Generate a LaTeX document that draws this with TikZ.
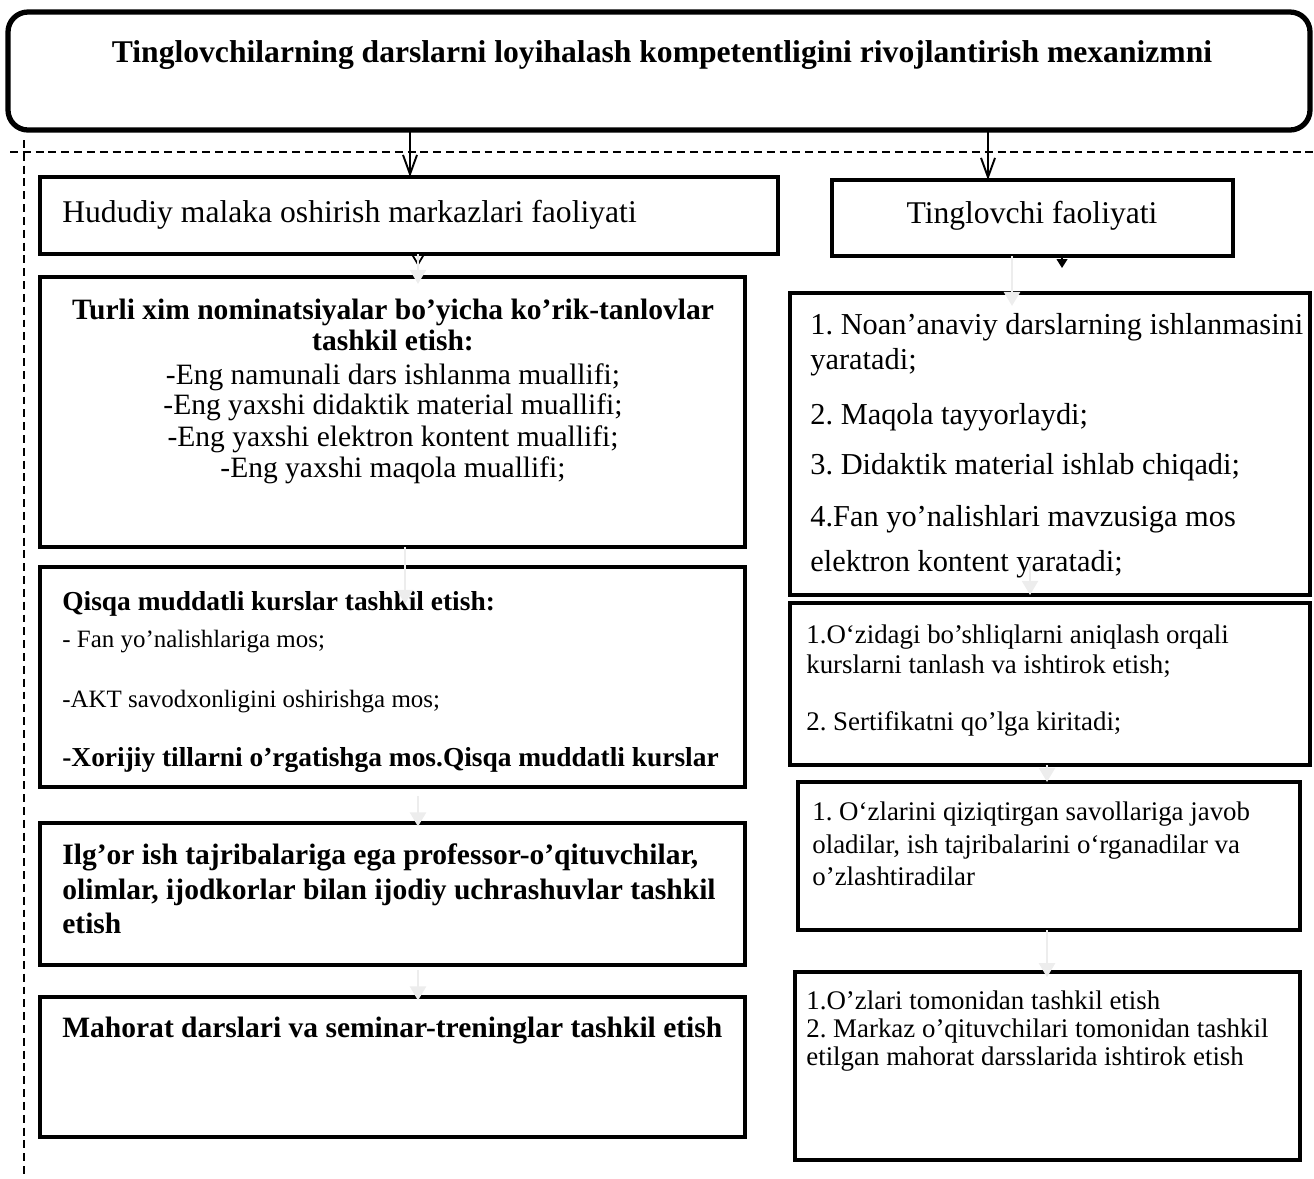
\documentclass[tikz,border=0pt]{standalone}
\usepackage{fontspec}
\setmainfont{Liberation Serif}
\usetikzlibrary{fit}
\usetikzlibrary{arrows.meta}
\frenchspacing

\begin{document}
\begin{tikzpicture}[x=0.02cm,y=-0.02cm,
    box/.style={draw,line width=2.8pt,inner sep=0pt,outer sep=0pt},
    txt/.style={inner sep=0pt,anchor=base west},
    conn/.style={draw=black!7,line width=1.6pt,-{Triangle[length=8pt,width=9pt]}},
    main/.style={line width=1.1pt,-{Straight Barb[length=11pt,width=8pt]}}]
    \useasboundingbox (0,0) rectangle (1314,1178);

    % dashed frame
    \coordinate (dl) at (10,152);
    \coordinate (dr) at (1314,152);
    \coordinate (dt) at (24,140);
    \coordinate (db) at (24,1178);
    \draw[line width=0.9pt,dash pattern=on 4.5pt off 2.8pt] (dl) -- (dr);
    \draw[line width=0.9pt,dash pattern=on 4.5pt off 2.8pt] (dt) -- (db);

    % title
    \node[box,rounded corners=0.4cm,line width=3pt,fit={(8,12) (1310,130)}] (mech) {};
    \node[inner sep=0pt,anchor=base,font=\bfseries\fontsize{18}{21}\selectfont] (mechtxt) at (662,62)
        {Tinglovchilarning darslarni loyihalash kompetentligini rivojlantirish mexanizmni};

    % left column
    \node[box,fit={(40,177) (778,254)}] (hudud) {};
    \node[txt,font=\fontsize{18}{21}\selectfont] (hududtxt) at (62,222) {Hududiy malaka oshirish markazlari faoliyati};

    \node[box,fit={(40,277) (745,547)}] (turli) {};
    \node[inner sep=0pt,anchor=base,font=\bfseries\fontsize{16.8}{20}\selectfont] (turli1) at (393,319) {Turli xim nominatsiyalar bo’yicha ko’rik-tanlovlar};
    \node[inner sep=0pt,anchor=base,font=\bfseries\fontsize{16.8}{20}\selectfont] (turli2) at (393,350) {tashkil etish:};
    \foreach \y/\t in {384/{-Eng namunali dars ishlanma muallifi;},
                       414/{-Eng yaxshi didaktik material muallifi;},
                       446/{-Eng yaxshi elektron kontent muallifi;},
                       477/{-Eng yaxshi maqola muallifi;}}
        \node[inner sep=0pt,anchor=base,font=\fontsize{16.8}{20}\selectfont] (turli-\y) at (393,\y) {\t};

    \node[box,fit={(40,567) (745,787)}] (qisqa) {};
    \node[txt,font=\bfseries\fontsize{15.6}{19}\selectfont] (qisqa1) at (62,610) {Qisqa muddatli kurslar tashkil etish:};
    \node[txt,font=\fontsize{14.2}{17}\selectfont] (qisqa2) at (62,647) {- Fan yo’nalishlariga mos;};
    \node[txt,font=\fontsize{14.2}{17}\selectfont] (qisqa3) at (62,707) {-AKT savodxonligini oshirishga mos;};
    \node[txt,font=\bfseries\fontsize{15.6}{19}\selectfont] (qisqa4) at (62,766) {-Xorijiy tillarni o’rgatishga mos.Qisqa muddatli kurslar};

    \node[box,fit={(40,823) (745,965)}] (ilgor) {};
    \foreach \y/\t in {864/{Ilg’or ish tajribalariga ega professor-o’qituvchilar,},
                       899/{olimlar, ijodkorlar bilan ijodiy uchrashuvlar tashkil},
                       933/{etish}}
        \node[txt,font=\bfseries\fontsize{16.8}{20}\selectfont] (ilgor-\y) at (62,\y) {\t};

    \node[box,fit={(40,997) (745,1137)}] (mahorat) {};
    \node[txt,font=\bfseries\fontsize{16.8}{20}\selectfont] (mahorattxt) at (62,1037) {Mahorat darslari va seminar-treninglar tashkil etish};

    % right column
    \node[box,fit={(832,180) (1233,256)}] (tingl) {};
    \node[inner sep=0pt,anchor=base,font=\fontsize{18}{21}\selectfont] (tingltxt) at (1032,223) {Tinglovchi faoliyati};

    \node[box,fit={(790,293) (1310,595)}] (rtwo) {};
    \foreach \y/\t in {334/{1. Noan’anaviy darslarning ishlanmasini},
                       369/{yaratadi;},
                       424/{2. Maqola tayyorlaydi;},
                       474/{3. Didaktik material ishlab chiqadi;},
                       526/{4.Fan yo’nalishlari mavzusiga mos},
                       571/{elektron kontent yaratadi;}}
        \node[txt,font=\fontsize{17.3}{20}\selectfont] (rtwo-\y) at (810,\y) {\t};

    \node[box,fit={(790,603) (1310,765)}] (rthree) {};
    \foreach \y/\t in {643/{1.O‘zidagi bo’shliqlarni aniqlash orqali},
                       673/{kurslarni tanlash va ishtirok etish;},
                       730/{2. Sertifikatni qo’lga kiritadi;}}
        \node[txt,font=\fontsize{15.3}{18}\selectfont] (rthree-\y) at (806,\y) {\t};

    \node[box,fit={(798,782) (1300,930)}] (rfour) {};
    \foreach \y/\t in {820/{1. O‘zlarini qiziqtirgan savollariga javob},
                       853/{oladilar, ish tajribalarini o‘rganadilar va},
                       885/{o’zlashtiradilar}}
        \node[txt,font=\fontsize{15.3}{18}\selectfont] (rfour-\y) at (812,\y) {\t};

    \node[box,fit={(795,972) (1300,1160)}] (rfive) {};
    \foreach \y/\t in {1009/{1.O’zlari tomonidan tashkil etish},
                       1037/{2. Markaz o’qituvchilari tomonidan tashkil},
                       1065/{etilgan mahorat darsslarida ishtirok etish}}
        \node[txt,font=\fontsize{15.3}{18}\selectfont] (rfive-\y) at (806,\y) {\t};

    % arrows from the title
    \coordinate (a1) at (410,0);
    \coordinate (a2) at (988,0);
    \draw[main] (mech.south -| a1) -- (hudud.north -| a1);
    \draw[main] (mech.south -| a2) -- (tingl.north -| a2);

    % small black tips
    \coordinate (s1) at (418,266);
    \coordinate (s2) at (1062,268);
    \draw[line width=1pt,-{Straight Barb[length=5pt,width=6pt]}] (hudud.south -| s1) -- (s1);
    \draw[line width=1pt,-{Triangle[length=5pt,width=6pt]}] (tingl.south -| s2) -- (s2);

    % light connectors
    \coordinate (g1) at (418,284);
    \coordinate (g2) at (1012,306);
    \coordinate (g3) at (405,604);
    \coordinate (g4) at (1030,563);
    \coordinate (g5) at (418,0);
    \coordinate (g7) at (1047,0);
    \draw[conn] (hudud.south -| g1) -- (g1);
    \draw[conn] (tingl.south -| g2) -- (g2);
    \draw[conn] (turli.south -| g3) -- (g3);
    \draw[conn] (g4) -- (rtwo.south -| g4);
    \draw[conn,shorten <=5pt,shorten >=-2pt] (qisqa.south -| g5) -- (ilgor.north -| g5);
    \draw[conn,shorten <=3pt,shorten >=-2pt] (ilgor.south -| g5) -- (mahorat.north -| g5);
    \draw[conn] (rthree.south -| g7) -- (rfour.north -| g7);
    \draw[conn,shorten >=-3pt] (rfour.south -| g7) -- (rfive.north -| g7);
\end{tikzpicture}
\end{document}
